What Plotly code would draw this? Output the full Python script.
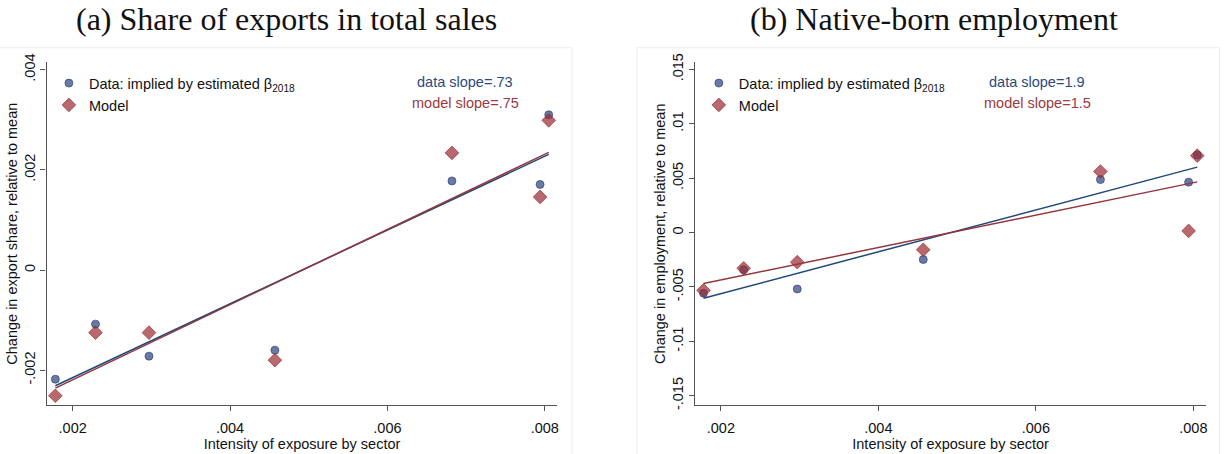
import numpy as np
import plotly.graph_objects as go

# ---- data ----
exposure = [0.00178, 0.00229, 0.00297, 0.00457, 0.00682, 0.00794, 0.00805]
exports_data = [-0.00218, -0.00108, -0.00172, -0.00160, 0.00178, 0.00171, 0.00310]
exports_model = [-0.00251, -0.00125, -0.00125, -0.00180, 0.00234, 0.00146, 0.00299]
emp_data = [-0.00558, -0.00343, -0.00519, -0.00248, 0.00487, 0.00463, 0.00713]
emp_model = [-0.00531, -0.00328, -0.00272, -0.00158, 0.00561, 0.00015, 0.00707]

x_ticks = [0.002, 0.004, 0.006, 0.008]
x_ticklabels = [".002", ".004", ".006", ".008"]
ya_ticks = [-0.002, 0, 0.002, 0.004]
ya_ticklabels = ["-.002", "0", ".002", ".004"]
yb_ticks = [-0.015, -0.01, -0.005, 0, 0.005, 0.01, 0.015]
yb_ticklabels = ["-.015", "-.01", "-.005", "0", ".005", ".01", ".015"]

titles = ["(a) Share of exports in total sales", "(b) Native-born employment"]
ytitles = ["Change in export share, relative to mean",
           "Change in employment, relative to mean"]
xtitle = "Intensity of exposure by sector"
slope_texts = [("data slope=.73", "model slope=.75"), ("data slope=1.9", "model slope=1.5")]

NAVY = "#1f4878"
MAROON = "#93363e"
SANS = "Liberation Sans, Arial, sans-serif"
FS = 14.5
W, H = 1228, 454

fig = go.Figure()

def fit_line(x, y):
    b, a = np.polyfit(x, y, 1)
    xs = np.array([min(x), max(x)])
    return xs, a + b * xs

panels = [("x", "y", exports_data, exports_model, "legend"),
          ("x2", "y2", emp_data, emp_model, "legend2")]
for xa, ya, d, m, lg in panels:
    fig.add_trace(go.Scatter(
        x=exposure, y=d, mode="markers", xaxis=xa, yaxis=ya, legend=lg,
        name="Data: implied by estimated β<sub>2018</sub>",
        marker=dict(symbol="circle", size=8, color="rgba(42,66,124,0.7)",
                    line=dict(color="rgba(42,66,124,0.85)", width=0.8))))
    fig.add_trace(go.Scatter(
        x=exposure, y=m, mode="markers", xaxis=xa, yaxis=ya, legend=lg,
        name="Model",
        marker=dict(symbol="diamond", size=10.5, color="rgba(154,42,49,0.7)",
                    line=dict(color="rgba(154,42,49,0.85)", width=0.8))))
    xs, ys = fit_line(exposure, d)
    fig.add_trace(go.Scatter(x=xs, y=ys, mode="lines", xaxis=xa, yaxis=ya,
                             line=dict(color=NAVY, width=1.5), showlegend=False))
    xs, ys = fit_line(exposure, m)
    fig.add_trace(go.Scatter(x=xs, y=ys, mode="lines", xaxis=xa, yaxis=ya,
                             line=dict(color=MAROON, width=1.5), showlegend=False))

def px_x(p):
    return p / W

def px_y(p):
    return 1 - p / H

axis_common = dict(showgrid=False, zeroline=False, showline=True, linecolor="#555555",
                   linewidth=1.3, ticks="outside", ticklen=5, tickwidth=1.2,
                   tickcolor="#555555", tickfont=dict(family=SANS, size=FS, color="#111111"),
                   mirror=False)

ydom = [px_y(408.7), px_y(55)]
fig.update_layout(
    width=W, height=H, paper_bgcolor="white", plot_bgcolor="white",
    margin=dict(l=0, r=0, t=0, b=0), font=dict(family=SANS, size=FS, color="#111111"),
    xaxis=dict(domain=[px_x(46.7), px_x(558.3)], range=[0.001669, 0.00816],
               tickvals=x_ticks, ticktext=x_ticklabels, anchor="y", ticklabelstandoff=4,
               title=dict(text=xtitle, standoff=0, font=dict(family=SANS, size=FS)),
               **axis_common),
    yaxis=dict(domain=ydom, range=[-0.002697, 0.004149], tickvals=ya_ticks,
               ticktext=ya_ticklabels, tickangle=-90, anchor="x",
               title=dict(text=ytitles[0], standoff=0, font=dict(family=SANS, size=FS)),
               **axis_common),
    xaxis2=dict(domain=[px_x(696), px_x(1208.3)], range=[0.00167, 0.008165],
                tickvals=x_ticks, ticktext=x_ticklabels, anchor="y2", ticklabelstandoff=4,
                title=dict(text=xtitle, standoff=0, font=dict(family=SANS, size=FS)),
                **axis_common),
    yaxis2=dict(domain=ydom, range=[-0.01586, 0.01565], tickvals=yb_ticks,
                ticktext=yb_ticklabels, tickangle=-90, anchor="x2",
                title=dict(text=ytitles[1], standoff=0, font=dict(family=SANS, size=FS)),
                **axis_common),
    legend=dict(x=px_x(49), y=px_y(60), xanchor="left", yanchor="top",
                bgcolor="rgba(0,0,0,0)", font=dict(family=SANS, size=FS, color="#111111"),
                tracegroupgap=0, itemsizing="trace"),
    legend2=dict(x=px_x(700), y=px_y(60), xanchor="left", yanchor="top",
                 bgcolor="rgba(0,0,0,0)", font=dict(family=SANS, size=FS, color="#111111"),
                 tracegroupgap=0, itemsizing="trace"),
)

# panel titles
for cx, t in zip([287, 936], titles):
    fig.add_annotation(x=px_x(cx), y=px_y(10), xref="paper", yref="paper",
                       text=t, showarrow=False, xanchor="center", yanchor="middle",
                       font=dict(family="Liberation Serif, serif", size=32, color="#111111"))

# slope labels
for cx, (dt, mt) in zip([466, 1039], slope_texts):
    fig.add_annotation(x=px_x(cx), y=px_y(75.5), xref="paper", yref="paper", text=dt,
                       showarrow=False, xanchor="center", yanchor="middle",
                       font=dict(family=SANS, size=FS, color="#2a4a7e"))
    fig.add_annotation(x=px_x(cx), y=px_y(96.5), xref="paper", yref="paper", text=mt,
                       showarrow=False, xanchor="center", yanchor="middle",
                       font=dict(family=SANS, size=FS, color="#9a3a42"))

# faint graph-region borders
for x0, x1 in [(-2, 573), (638, 1221.5)]:
    fig.add_shape(type="rect", xref="paper", yref="paper", x0=px_x(x0), x1=px_x(x1),
                  y0=px_y(470), y1=px_y(40), line=dict(color="#ececec", width=1),
                  fillcolor="rgba(0,0,0,0)", layer="below")

fig.write_html("out.html", config={"displayModeBar": False},
               post_script="document.body.style.margin='0';")
